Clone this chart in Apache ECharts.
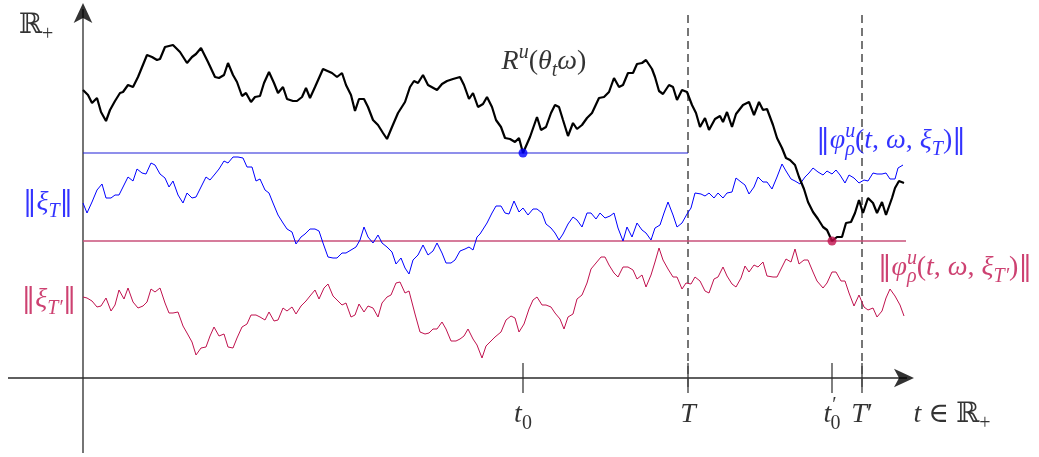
<!DOCTYPE html>
<html><head><meta charset="utf-8">
<script src="https://cdn.jsdelivr.net/npm/echarts@6/dist/echarts.min.js"></script>
<style>html,body{margin:0;padding:0;background:#fff}#c{width:1039px;height:457px}</style>
</head><body><div id="c"></div>
<script>
// ---- data (t along the time axis, value above the t-axis) ----
const tBlack = [0,5,9,14,18,23,27,32,37,40,45,50,55,64,69,74,77,82,90,97,104,109,113,118,125,132,136,141,145,150,154,159,163,168,172,177,181,186,191,195,200,204,210,214,219,223,227,232,240,249,254,259,263,268,272,276,281,285,290,295,300,304,309,315,322,327,331,335,340,345,354,359,364,370,377,381,386,390,395,400,404,409,413,418,422,427,432,436,440,447,454,458,463,468,472,476,480,485,490,494,499,504,509,516,521,526,531,536,540,545,550,554,559,563,569,572,576,580,586,590,594,599,604,609,613,617,622,626,632,637,640,644,649,653,660,666,671,676,680,684,690,694,699,703,707,712,716,721,725,730,735,740,744,749,754,759,763,768,772,776,780,785,790,794,799,803,809,812,816,821];
const rBlack = [288,283,275,280,266,257,268,277,285,286,293,291,301,323,321,318,319,331,333,326,315,321,324,330,316,301,300,303,315,303,296,282,285,276,281,282,295,306,295,285,291,279,277,277,281,290,280,291,309,305,301,305,293,283,267,279,279,271,258,253,245,239,251,265,276,291,297,295,303,293,288,294,297,299,301,293,279,285,271,274,281,271,258,251,240,239,236,240,225,241,261,248,251,265,273,271,258,242,255,249,253,260,265,280,281,286,300,291,293,305,305,314,315,318,309,301,287,284,293,291,278,288,286,273,265,251,260,248,259,262,256,266,251,264,273,276,263,276,268,269,253,240,230,220,218,213,201,189,176,166,159,151,148,137,141,141,155,156,165,178,165,180,175,165,176,163,180,190,197,195];

const tBlue = [0,4,9,14,19,23,28,32,36,41,45,50,54,59,63,68,72,77,82,86,90,95,100,104,109,113,118,123,127,132,136,141,145,150,155,160,164,169,173,177,182,186,190,195,200,204,209,213,218,222,227,232,236,240,245,250,254,259,263,268,273,277,281,285,290,295,299,304,309,313,318,322,326,330,335,340,345,350,354,359,363,368,372,377,382,386,390,394,397,404,409,413,418,422,426,431,436,440,445,450,454,459,463,468,472,476,480,485,490,494,499,504,508,513,517,522,527,531,535,540,544,549,554,559,563,568,572,577,581,585,590,594,599,604,608,612,618,622,626,631,635,640,644,649,653,658,662,666,671,675,680,684,689,694,699,703,708,712,717,722,726,730,735,740,744,749,753,757,762,766,771,776,781,785,790,794,799,803,807,812,815,820];
const xiBlue = [175,165,176,188,194,180,180,183,183,193,201,197,209,205,204,215,213,204,200,191,197,183,175,185,180,181,191,201,198,204,209,217,215,221,221,220,211,211,197,199,188,185,175,163,155,149,146,134,141,144,149,149,147,135,121,120,120,125,125,128,131,138,151,141,135,143,135,131,126,114,120,110,104,118,123,133,123,127,135,125,115,115,118,127,129,131,128,141,144,155,165,172,172,165,164,177,166,170,163,169,169,165,154,150,145,138,144,154,161,158,151,165,165,159,165,160,162,165,150,137,151,141,155,148,145,138,150,153,165,176,163,151,155,164,170,185,184,182,185,180,185,180,185,186,200,196,193,184,191,201,196,196,189,201,214,207,199,197,194,201,205,210,206,203,207,204,208,203,195,203,200,195,198,197,205,204,204,205,199,199,210,213];

const tCrim = [0,4,9,14,18,23,28,32,36,41,45,50,55,60,64,68,72,77,82,86,90,95,100,104,109,113,118,123,127,131,136,141,145,150,154,159,164,168,173,177,182,186,191,195,200,204,209,213,218,223,227,232,236,241,245,250,254,259,263,268,272,276,281,285,290,295,299,304,308,313,317,322,326,332,337,342,346,350,354,359,363,368,373,377,381,385,390,394,399,403,412,418,423,428,432,436,441,446,450,454,459,463,468,472,477,481,485,490,494,499,504,508,513,518,522,526,531,535,540,545,550,554,559,563,568,572,576,580,585,590,594,599,603,608,612,617,622,626,631,635,640,644,649,653,658,662,666,671,675,680,684,690,694,699,703,708,712,716,721,725,730,734,740,744,749,753,758,762,766,771,776,781,785,790,794,799,803,807,812,817,821];
const xiCrim = [81,80,77,71,72,80,67,73,88,79,90,76,70,72,76,89,86,90,75,65,65,66,52,45,36,23,30,31,42,51,42,44,31,30,40,51,54,63,63,61,58,66,57,58,70,67,71,64,72,77,82,88,79,90,94,82,78,73,75,61,63,74,66,72,70,61,75,81,83,95,96,85,87,64,46,44,45,49,49,56,49,37,37,39,42,49,39,33,20,32,41,46,58,62,60,46,54,69,78,81,73,73,71,65,59,49,61,64,79,83,95,109,115,121,121,113,105,101,111,111,108,99,103,91,103,116,130,118,109,101,101,89,95,94,101,97,87,85,99,101,111,102,94,91,100,112,106,113,111,116,102,101,101,111,119,116,129,114,118,118,106,97,90,95,106,106,97,97,85,72,83,71,68,70,61,67,80,89,82,73,62];

const tickTimes  = [440, 605, 749, 779];            // t0, T, t0', T'
const tickLabels = ['{i|t}{subn|0}', '{i|T}', '{i|t}{pr|′}{sb0|0}', '{i|T}{n|′}'];
const dashedTimes = [605, 779];                      // T, T'
const blueLevel = 225, blueLevelEnd = 605;          // ||xi_T||, up to T
const crimLevel = 137, crimLevelEnd = 823;          // ||xi_T'||
const blueMin = [440, 225];
const crimMin = [749, 137];
const axisEndT = 832, axisStartT = -75, axisTopV = 377, axisBottomV = -75;

// ---- styling ----
const FONT = "'Liberation Serif','DejaVu Serif',serif";
const BAR = "'DejaVu Serif',serif";
const BLUE = '#0000ff', CRIM = '#c0124e';
function rich(size) {
  const s = Math.round(size * 0.7);
  const lh = Math.round(size * 1.35);
  return {
    i:    {fontFamily: FONT, fontStyle: 'italic', fontSize: size, lineHeight: lh},
    n:    {fontFamily: FONT, fontSize: size, lineHeight: lh},
    b:    {fontFamily: BAR, fontSize: Math.round(size * 0.95), lineHeight: lh},
    bb:   {fontFamily: BAR, fontSize: size, lineHeight: lh},
    sup:  {fontFamily: FONT, fontStyle: 'italic', fontSize: s, verticalAlign: 'top'},
    pr:   {fontFamily: FONT, fontSize: s, verticalAlign: 'top', padding: [0, 0, 0, 1]},
    sub:  {fontFamily: FONT, fontStyle: 'italic', fontSize: s, verticalAlign: 'bottom'},
    subn: {fontFamily: FONT, fontSize: s, verticalAlign: 'bottom'},
    // subscript stacked under the preceding superscript
    sbr:  {fontFamily: FONT, fontStyle: 'italic', fontSize: s, verticalAlign: 'bottom', padding: [0, 0, 0, -Math.round(s * 0.5)]},
    sb0:  {fontFamily: FONT, fontSize: s, verticalAlign: 'bottom', padding: [0, 0, 0, -Math.round(s * 0.3)]}
  };
}
const annotations = [
  {text: '{bb|ℝ}{subn|+}', pos: [-47, 352], color: '#000', size: 28},
  {text: '{i|R}{sup|u}{n|(}{i|θ}{sub|t}{i|ω}{n|)}', pos: [461, 316], color: '#000', size: 28},
  {text: '{b|‖}{i|φ}{sup|u}{sbr|ρ}{n|(}{i|t}{n|, }{i|ω}{n|, }{i|ξ}{sub|T}{n|)}{b|‖}', pos: [808, 237], color: BLUE, size: 28},
  {text: '{b|‖}{i|ξ}{sub|T}{b|‖}', pos: [-35, 175], color: BLUE, size: 28},
  {text: '{b|‖}{i|ξ}{sub|T′}{b|‖}', pos: [-34, 78], color: CRIM, size: 28},
  {text: '{b|‖}{i|φ}{sup|u}{sbr|ρ}{n|(}{i|t}{n|, }{i|ω}{n|, }{i|ξ}{sub|T′}{n|)}{b|‖}', pos: [872, 110], color: CRIM, size: 28},
  {text: '{i|t}{n| ∈ }{bb|ℝ}{subn|+}', pos: [869, -37], color: '#000', size: 28}
];

const zip = (a, b) => a.map((t, k) => [t, b[k]]);
const AX = '#2a2a2a';
const series = [];
// axes
series.push({type: 'line', data: [[axisStartT, 0], [axisEndT - 8, 0]], symbol: 'none', lineStyle: {color: AX, width: 1.3}, z: 1});
series.push({type: 'line', data: [[0, axisBottomV], [0, axisTopV - 8]], symbol: 'none', lineStyle: {color: AX, width: 1.3}, z: 1});
series.push({type: 'scatter', symbol: 'arrow', symbolSize: [14, 20], itemStyle: {color: '#000'}, z: 2,
  data: [{value: [axisEndT - 1, 0], symbolRotate: -90}, {value: [0, axisTopV - 2], symbolRotate: 0}]});
// ticks
tickTimes.forEach(t => series.push({type: 'line', data: [[t, 15], [t, -15]], symbol: 'none', lineStyle: {color: AX, width: 1.2}, z: 2}));
// dashed verticals
dashedTimes.forEach(t => series.push({type: 'line', data: [[t, 363], [t, -14]], symbol: 'none', lineStyle: {color: '#4a4a4a', width: 1.5, type: [8, 5]}, z: 2}));
// levels
series.push({type: 'line', data: [[0, blueLevel], [blueLevelEnd, blueLevel]], symbol: 'none', lineStyle: {color: '#2020d8', width: 1.2}, z: 3});
series.push({type: 'line', data: [[0, crimLevel], [crimLevelEnd, crimLevel]], symbol: 'none', lineStyle: {color: '#c8507a', width: 1.6}, z: 3});
// walks
series.push({type: 'line', data: zip(tBlue, xiBlue), symbol: 'none', lineStyle: {color: BLUE, width: 1}, z: 4});
series.push({type: 'line', data: zip(tCrim, xiCrim), symbol: 'none', lineStyle: {color: CRIM, width: 1}, z: 4});
series.push({type: 'line', data: zip(tBlack, rBlack), symbol: 'none', lineStyle: {color: '#000', width: 2.2}, z: 5});
// dots
series.push({type: 'scatter', data: [{value: blueMin, itemStyle: {color: BLUE}}, {value: crimMin, itemStyle: {color: CRIM}}], symbolSize: 9, z: 6});
// tick labels
series.push({type: 'scatter', symbolSize: 0, z: 7,
  data: tickTimes.map((t, k) => ({value: [t, -37], label: {show: true, position: 'inside', formatter: tickLabels[k], color: '#000', rich: rich(28)}}))});
// annotations
series.push({type: 'scatter', symbolSize: 0, z: 7,
  data: annotations.map(a => ({value: a.pos, label: {show: true, position: 'inside', formatter: a.text, color: a.color, rich: rich(a.size)}}))});

const chart = echarts.init(document.getElementById('c'), null, {renderer: 'canvas'});
chart.setOption({
  animation: false,
  backgroundColor: '#fff',
  grid: {left: 0, right: 0, top: 0, bottom: 0},
  xAxis: {type: 'value', min: -83, max: 956, show: false},
  yAxis: {type: 'value', min: -79, max: 378, show: false},
  series: series.map(s => Object.assign({silent: true}, s))
});
</script></body></html>
